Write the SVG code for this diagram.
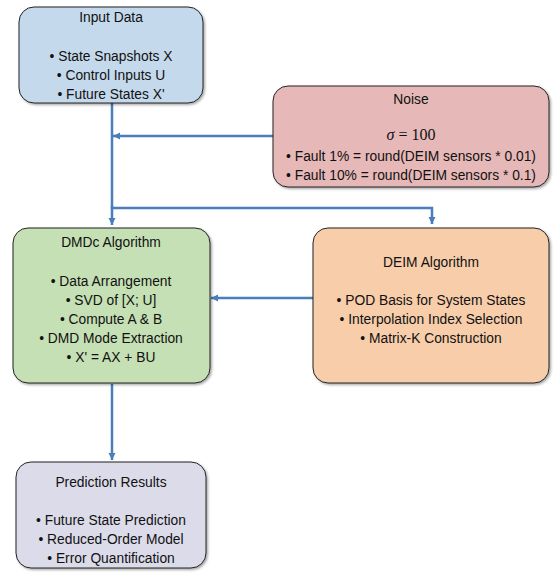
<svg xmlns="http://www.w3.org/2000/svg" width="555" height="583" viewBox="0 0 555 583">
<defs>
<marker id="ah" markerWidth="8" markerHeight="8" refX="7" refY="4" orient="auto" markerUnits="userSpaceOnUse">
<path d="M0,0.5 L7,4 L0,7.5 Z" fill="#4a7ebb"/>
</marker>
<filter id="sh" x="-5%" y="-5%" width="115%" height="115%">
<feDropShadow dx="1.5" dy="1.5" stdDeviation="1" flood-color="#000" flood-opacity="0.35"/>
</filter>
</defs>
<style>
.box{stroke:#222;stroke-width:1;filter:url(#sh)}
text{font-family:"Liberation Sans",Arial,sans-serif;font-size:13.8px;fill:#111;text-anchor:middle}
.conn{fill:none;stroke:#4a7ebb;stroke-width:2.5}
</style>
<rect width="555" height="583" fill="#fff"/>
<g id="connectors">
<path class="conn" d="M112,103 V208 H432 V224" marker-end="url(#ah)"/>
<path class="conn" d="M112,206 V225" marker-end="url(#ah)"/>
<path class="conn" d="M273,136 H113" marker-end="url(#ah)"/>
<path class="conn" d="M313,298 H211" marker-end="url(#ah)"/>
<path class="conn" d="M112,384 V460" marker-end="url(#ah)"/>
</g>
<g id="input">
<rect class="box" x="19" y="7" width="184" height="96" rx="15" fill="#c5d9ec"/>
<text x="111" y="22">Input Data</text>
<text x="111" y="61">• State Snapshots X</text>
<text x="111" y="80">• Control Inputs U</text>
<text x="111" y="99">• Future States X'</text>
</g>
<g id="noise">
<rect class="box" x="273" y="86" width="276" height="101" rx="15" fill="#e6b8b7"/>
<text x="411" y="104">Noise</text>
<text x="411" y="140" style="font-family:'Liberation Serif',serif;font-size:16px"><tspan font-style="italic">σ</tspan> = 100</text>
<text x="411" y="161">• Fault 1% = round(DEIM sensors * 0.01)</text>
<text x="411" y="180">• Fault 10% = round(DEIM sensors * 0.1)</text>
</g>
<g id="dmdc">
<rect class="box" x="13" y="228" width="197" height="155" rx="15" fill="#c5e0b4"/>
<text x="111" y="247">DMDc Algorithm</text>
<text x="111" y="286">• Data Arrangement</text>
<text x="111" y="305">• SVD of [X; U]</text>
<text x="111" y="324">• Compute A &amp; B</text>
<text x="111" y="343">• DMD Mode Extraction</text>
<text x="111" y="362">• X' = AX + BU</text>
</g>
<g id="deim">
<rect class="box" x="313" y="228" width="236" height="155" rx="15" fill="#f8cdaa"/>
<text x="431" y="267">DEIM Algorithm</text>
<text x="431" y="305">• POD Basis for System States</text>
<text x="431" y="324">• Interpolation Index Selection</text>
<text x="431" y="343">• Matrix-K Construction</text>
</g>
<g id="prediction">
<rect class="box" x="16" y="462" width="190" height="106" rx="15" fill="#dcdbea"/>
<text x="111" y="487">Prediction Results</text>
<text x="111" y="525">• Future State Prediction</text>
<text x="111" y="544">• Reduced-Order Model</text>
<text x="111" y="563">• Error Quantification</text>
</g>
</svg>
